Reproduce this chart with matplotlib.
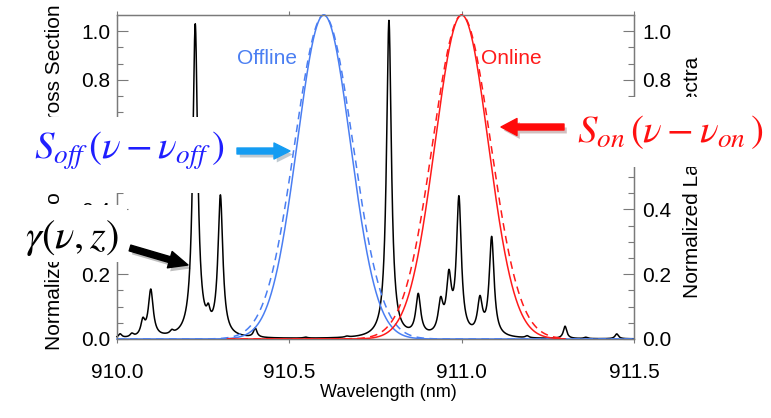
import numpy as np
import matplotlib
matplotlib.use("Agg")
import matplotlib.pyplot as plt
from matplotlib.patches import FancyArrowPatch, Rectangle
from matplotlib.transforms import IdentityTransform
import matplotlib.patheffects as pe

# ---------------- data ----------------
# absorption lines: centre (nm), peak height, half width (nm)
line_centers = [910.009, 910.043, 910.075, 910.098, 910.159, 910.227, 910.265, 910.300,
                910.401, 910.547, 910.667, 910.789, 910.874, 910.939, 910.963, 910.992,
                911.053, 911.087, 911.190, 911.300, 911.360, 911.450]
line_heights = [0.012, 0.010, 0.045, 0.145, 0.010, 0.965, 0.040, 0.430,
                0.028, 0.003, 0.003, 0.980, 0.125, 0.095, 0.165, 0.420,
                0.105, 0.305, 0.006, 0.038, 0.004, 0.015]
line_widths = [0.006, 0.006, 0.007, 0.0085, 0.006, 0.0085, 0.006, 0.0085,
               0.006, 0.006, 0.006, 0.0085, 0.0085, 0.0085, 0.0085, 0.0085,
               0.0085, 0.0085, 0.006, 0.006, 0.006, 0.006]

# laser spectra: centre (nm), gaussian sigma (nm) solid / dashed
offline_center = 910.60
online_center = 911.00
sigma_solid = 0.077
sigma_dashed = 0.084

x_ticks = [910.0, 910.5, 911.0, 911.5]
x_ticklabels = ["910.0", "910.5", "911.0", "911.5"]
y_ticks = [0.0, 0.2, 0.4, 0.6, 0.8, 0.95]
y_ticklabels = ["0.0", "0.2", "0.4", "0.6", "0.8", "1.0"]

# ---------------- styling ----------------
plt.rcParams["font.family"] = ["Liberation Sans", "DejaVu Sans"]
plt.rcParams["mathtext.fontset"] = "stix"

W, H = 771, 418
fig = plt.figure(figsize=(W / 100, H / 100), dpi=100)
L, R, T, B = 117, 634, 15, 339
ax = fig.add_axes([L / W, 1 - B / H, (R - L) / W, (B - T) / H])

BLUE = "#4a7ef2"
RED = "#ff1a1a"
SPINE = "#7a7a7a"

wl = np.linspace(910.0, 911.5, 6001)
spec = np.zeros_like(wl)
for c, h, g in zip(line_centers, line_heights, line_widths):
    spec += h * g ** 2 / ((wl - c) ** 2 + g ** 2)


def gauss(c, s):
    return np.exp(-0.5 * ((wl - c) / s) ** 2)


dash = (0, (5, 3.5))
ax.plot(wl, spec, color="black", lw=1.1, zorder=3, clip_on=False)
ax.plot(wl, gauss(offline_center, sigma_solid), color=BLUE, lw=1.1, zorder=4, clip_on=False)
ax.plot(wl, gauss(offline_center, sigma_dashed), color=BLUE, lw=1.1, ls=dash, zorder=4, clip_on=False)
m = (wl > 910.32) & (wl < 911.30)
ax.plot(wl[m], gauss(online_center, sigma_solid)[m], color=RED, lw=1.1, zorder=5, clip_on=False)
ax.plot(wl[m], gauss(online_center, sigma_dashed)[m], color=RED, lw=1.1, ls=dash, zorder=5, clip_on=False)

ax.set_xlim(910.0, 911.5)
ax.set_ylim(0.0, 1.0)
ax.set_xticks(x_ticks)
ax.set_xticklabels(x_ticklabels)
ax.set_yticks(y_ticks)
ax.set_yticklabels(y_ticklabels)
minor = [v for v in np.arange(0.05, 0.93, 0.05) if min(abs(v - t) for t in y_ticks) > 1e-6]
ax.set_yticks(minor, minor=True)
ax.tick_params(axis="x", which="major", direction="out", length=3, width=0.8, color=SPINE,
               top=True, bottom=True, labelsize=15, pad=14)
ax.tick_params(axis="y", which="major", direction="in", length=8, width=0.8, color=SPINE,
               labelsize=15, pad=5)
ax.tick_params(axis="y", which="minor", direction="in", length=4, width=0.8, color=SPINE)
for s in ax.spines.values():
    s.set_color(SPINE)
    s.set_linewidth(1.0)

ax2 = ax.twinx()
ax2.set_ylim(0.0, 1.0)
ax2.set_yticks(y_ticks)
ax2.set_yticklabels(y_ticklabels)
ax2.set_yticks(minor, minor=True)
ax2.tick_params(axis="y", which="major", direction="in", length=8, width=0.8, color=SPINE,
                labelsize=15, pad=6)
ax2.tick_params(axis="y", which="minor", direction="in", length=4, width=0.8, color=SPINE)
for s in ax2.spines.values():
    s.set_color(SPINE)

ax.set_xlabel("Wavelength (nm)", fontsize=13)
ax.xaxis.set_label_coords((388 - L) / (R - L), -(384 - B) / (B - T), transform=ax.transAxes)
ax.set_ylabel("Normalized Absorption Cross Section", fontsize=15)
ax.yaxis.set_label_coords(-(117 - 64) / (R - L), 0.5)
ax2.set_ylabel("Normalized Laser Spectra", fontsize=15, rotation=90)
ax2.yaxis.set_label_coords(1 + (683 - R) / (R - L), 0.5)

fig.text(267.5 / W, 1 - 58 / H, "Offline", color=BLUE, fontsize=15, ha="center", va="center")
fig.text(511.5 / W, 1 - 58 / H, "Online", color=RED, fontsize=15, ha="center", va="center")


# white boxes behind the annotation formulas
def white_box(x0, y0, x1, y1):
    fig.add_artist(Rectangle((x0 / W, 1 - y1 / H), (x1 - x0) / W, (y1 - y0) / H,
                             transform=fig.transFigure, facecolor="white",
                             edgecolor="none", zorder=10))


white_box(8, 117, 230, 193)
white_box(12, 205, 127, 262)
white_box(568, 97, 771, 167)

fig.text(129 / W, 1 - 151 / H, r"$S_{off}\,(\nu - \nu_{off}\,)$", color="#1f1fff",
         fontsize=28, ha="center", va="center", zorder=11)
fig.text(671 / W, 1 - 132 / H, r"$S_{on}\,(\nu - \nu_{on}\,)$", color="#ff1010",
         fontsize=28, ha="center", va="center", zorder=11)
fig.text(72 / W, 1 - 238 / H, r"$\gamma(\nu, z)$", color="black",
         fontsize=29, ha="center", va="center", zorder=11)


def arrow(x0, y0, x1, y1, color, tail, hw, hl):
    k = 72 / 100.0  # px -> pt
    p = FancyArrowPatch((x0, H - y0), (x1, H - y1), transform=IdentityTransform(),
                        arrowstyle=f"simple,head_length={hl * k},head_width={hw * k},tail_width={tail * k}",
                        mutation_scale=1, color=color, shrinkA=0, shrinkB=0, zorder=12,
                        path_effects=[pe.SimplePatchShadow(offset=(2, -2.5), alpha=0.25),
                                      pe.Normal()])
    fig.add_artist(p)


arrow(237, 151, 290, 151, "#149cf2", 6, 16, 16)
arrow(564, 127, 501, 127, "#ff0a0a", 6, 17, 16)
arrow(130, 248, 188, 265, "black", 6, 17, 19)

fig.savefig("out.png", dpi=100)
